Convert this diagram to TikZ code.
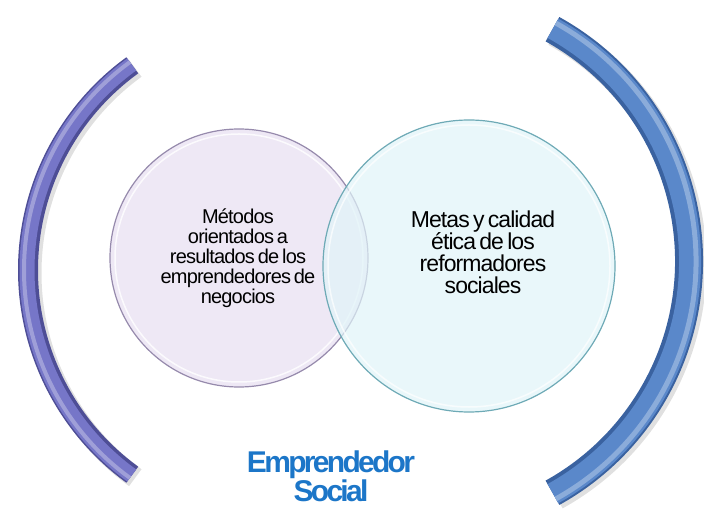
\documentclass[tikz,border=0pt]{standalone}
\usepackage{fontspec}
\setmainfont{Liberation Sans}[LetterSpace=-4,WordSpace=0.6]
\newfontfamily\titlefont{Liberation Sans}[LetterSpace=-9,WordSpace=0.6]
\definecolor{lavanda}{RGB}{238,232,245}
\definecolor{lavborde}{RGB}{150,138,172}
\definecolor{cian}{RGB}{224,244,248}
\definecolor{cianborde}{RGB}{110,170,182}
\definecolor{corchizq}{RGB}{118,118,200}
\definecolor{corchizqoscuro}{RGB}{78,78,150}
\definecolor{corchder}{RGB}{90,136,202}
\definecolor{corchderoscuro}{RGB}{58,98,160}
\definecolor{azultitulo}{RGB}{28,118,200}
\tikzset{
  circulo/.style={circle,line width=1.2pt},
  texto/.style={align=center,text=black},
  titulo/.style={align=center,font=\titlefont\bfseries\fontsize{30}{27}\selectfont}
}
\begin{document}
\begin{tikzpicture}[x=1pt,y=-1pt]
\useasboundingbox (0,0) rectangle (704,518);
% corchete izquierdo
\draw[black!20,line width=21pt,opacity=.6] (284,273) ++(126:253) arc[start angle=126,end angle=234,radius=253];
\draw[corchizqoscuro,line width=20pt] (281,270) ++(126:253) arc[start angle=126,end angle=234,radius=253];
\draw[corchizq,line width=15pt] (281,270) ++(126:254) arc[start angle=126,end angle=234,radius=254];
\draw[corchizq!70!white,line width=4pt] (281,270) ++(126:257) arc[start angle=126,end angle=234,radius=257];
% corchete derecho
\draw[black!20,line width=29pt,opacity=.6] (427,264) ++(-61:265) arc[start angle=-61,end angle=61,radius=265];
\draw[corchderoscuro,line width=28pt] (424,261) ++(-61:265) arc[start angle=-61,end angle=61,radius=265];
\draw[corchder,line width=22pt] (424,261) ++(-61:266) arc[start angle=-61,end angle=61,radius=266];
\draw[corchder!70!white,line width=5pt] (424,261) ++(-61:272) arc[start angle=-61,end angle=61,radius=272];
% circulos
\node[circulo,fill=lavanda,draw=lavborde,minimum size=258pt] (metodos) at (239,258) {};
\draw[white,line width=1.5pt,opacity=.8] (metodos.center) circle (124);
\node[circulo,fill=cian,draw=cianborde,fill opacity=.7,minimum size=292pt] (metas) at (469,266) {};
\draw[white,line width=1.5pt,opacity=.7] (metas.center) circle (141);
\node[texto,font=\fontsize{20}{20}\selectfont] (txtmetodos) at (238,258)
  {Métodos\\orientados a\\resultados de los\\emprendedores de\\negocios};
\node[texto,font=\fontsize{23}{21.7}\selectfont] (txtmetas) at (483,252)
  {Metas y calidad\\ética de los\\reformadores\\sociales};
% titulo
\node[titulo,text=azultitulo] (emprendedor) at (331,476) {Emprendedor\\Social};
\end{tikzpicture}
\end{document}
